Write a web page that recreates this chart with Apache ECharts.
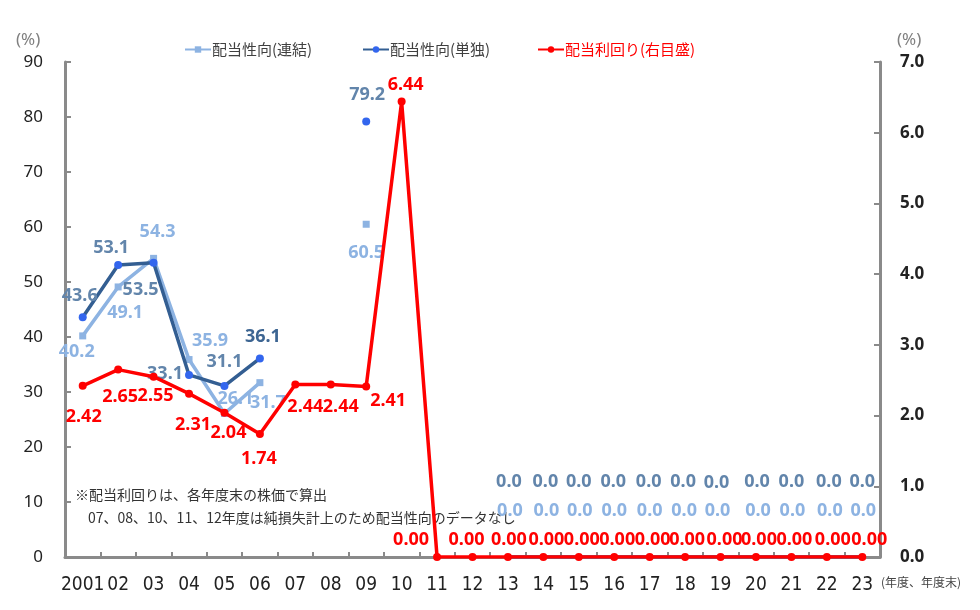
<!DOCTYPE html>
<html><head><meta charset="utf-8">
<script src="https://cdn.jsdelivr.net/npm/echarts@6/dist/echarts.min.js"></script>
<style>html,body{margin:0;padding:0;background:#fff}#c{width:980px;height:610px}</style>
</head><body><div id="c"></div>
<script>
// ---- data ----
var years = ['2001','02','03','04','05','06','07','08','09','10','11','12','13','14','15','16','17','18','19','20','21','22','23'];
var payoutConsolidated = [40.2,49.1,54.3,35.9,26.1,31.7,null,null,60.5,null,null,null,0.0,0.0,0.0,0.0,0.0,0.0,0.0,0.0,0.0,0.0,0.0];
var payoutParent = [43.6,53.1,53.5,33.1,31.1,36.1,null,null,79.2,null,null,null,0.0,0.0,0.0,0.0,0.0,0.0,0.0,0.0,0.0,0.0,0.0];
var dividendYield = [2.42,2.65,2.55,2.31,2.04,1.74,2.44,2.44,2.41,6.44,0.00,0.00,0.00,0.00,0.00,0.00,0.00,0.00,0.00,0.00,0.00,0.00,0.00];
var leftTicks = {min:0, max:90, interval:10};
var rightTicks = {min:0, max:7, interval:1};
var seriesNames = ['配当性向(連結)','配当性向(単独)','配当利回り(右目盛)'];
var noteLines = ['※配当利回りは、各年度末の株価で算出','07、08、10、11、12年度は純損失計上のため配当性向のデータなし'];

// ---- label layout (offsets of data labels from their points) ----
var offConsolidated = [[-6,16],[7,26],[4,-26],[21,-19],[11,-15],[8,20],null,null,[0,29],null,null,null,
  [2,-46],[3,-46],[1,-46],[0,-46],[0,-46],[-1,-46],[-3,-46],[2,-46],[1,-46],[3,-46],[1,-46]];
var offParent = [[-3,-21],[-7,-17],[-13,27],[-24,-1],[0,-24],[3,-22],null,null,[1,-27],null,null,null,
  [1,-75],[2,-75],[0,-75],[-1,-75],[-1,-75],[-2,-75],[-4,-74],[1,-75],[0,-75],[2,-75],[0,-75]];
var offYield = [[1,31],[2,27],[2,19],[4,31],[4,20],[-1,25],[10,22],[10,22],[22,14],[4,-17],[-26,-17],[-6,-17],
  [1,-17],[3,-17],[3,-17],[3,-17],[3,-17],[2,-17],[4,-17],[3,-17],[3,-17],[6,-17],[7,-17]];

var LBL_FONT = '"Noto Sans","Open Sans",sans-serif';
var JP_FONT = '"Noto Sans CJK JP",sans-serif';
function build(vals, offs, hideZeroSymbol, colorOverride){
  return vals.map(function(v,i){
    if (v === null) return null;
    var it = {value:v, label:{offset: offs[i] || [0,0]}};
    if (colorOverride && colorOverride[i]) it.label.color = colorOverride[i];
    if (hideZeroSymbol && v === 0) it.symbolSize = 1;
    return it;
  });
}
function lbl(color, digits){
  return {show:true, position:'inside', color:color, fontSize:18, fontWeight:'bold', fontFamily:LBL_FONT,
    formatter:function(p){return Number(p.value).toFixed(digits);}};
}
function oneLegend(name, left, color){
  return {top:37, left:left, itemWidth:26, itemHeight:8, itemGap:0, data:[name],
    textStyle:{fontSize:15, color:color, fontFamily:JP_FONT, padding:[0,0,0,-4]}};
}

var chart = echarts.init(document.getElementById('c'), null, {renderer:'canvas'});
var axisGray = '#8a8a8a';
chart.setOption({
  animation:false,
  backgroundColor:'#ffffff',
  grid:{left:65, right:100, top:62, bottom:53, containLabel:false},
  legend:[
    oneLegend(seriesNames[0], 179, '#404040'),
    oneLegend(seriesNames[1], 357, '#404040'),
    oneLegend(seriesNames[2], 532, '#ff0000')
  ],
  xAxis:{
    type:'category', data:years, boundaryGap:true,
    axisLine:{lineStyle:{color:axisGray, width:3}},
    axisTick:{show:true, inside:true, length:5, interval:0, lineStyle:{color:axisGray, width:2}},
    axisLabel:{interval:0, margin:19, color:'#222', fontSize:19,
      fontFamily:'"Liberation Sans Narrow","DejaVu Sans Condensed","Roboto Condensed",sans-serif'},
    splitLine:{show:false}
  },
  yAxis:[
    {type:'value', min:leftTicks.min, max:leftTicks.max, interval:leftTicks.interval, position:'left',
     axisLine:{show:true, lineStyle:{color:axisGray, width:3}},
     axisTick:{show:true, inside:true, length:6, lineStyle:{color:axisGray, width:2}},
     axisLabel:{color:'#222', fontSize:17, margin:22, fontFamily:'"Noto Sans",sans-serif'},
     splitLine:{show:false}},
    {type:'value', min:rightTicks.min, max:rightTicks.max, interval:rightTicks.interval, position:'right',
     axisLine:{show:true, lineStyle:{color:axisGray, width:3}},
     axisTick:{show:true, inside:true, length:6, lineStyle:{color:axisGray, width:2}},
     axisLabel:{color:'#222', fontSize:17, fontWeight:'bold', margin:20, fontFamily:'"Noto Sans",sans-serif',
       formatter:function(v){return v.toFixed(1);}},
     splitLine:{show:false}}
  ],
  graphic:[
    {type:'text', left:16, top:32, style:{text:'(%)', fill:'#808080', fontSize:17, fontFamily:'"Noto Sans",sans-serif'}},
    {type:'text', left:897, top:32, style:{text:'(%)', fill:'#808080', fontSize:17, fontFamily:'"Noto Sans",sans-serif'}},
    {type:'text', left:881, top:576, style:{text:'(年度、年度末)', fill:'#444', fontSize:12, fontFamily:JP_FONT}},
    {type:'text', left:75, top:488, z:1, style:{text:noteLines[0], fill:'#333', fontSize:14, fontFamily:JP_FONT}},
    {type:'text', left:88, top:511, z:1, style:{text:noteLines[1], fill:'#333', fontSize:14, fontFamily:JP_FONT}}
  ],
  series:[
    {name:seriesNames[0], type:'line', yAxisIndex:0, z:3, connectNulls:false,
     symbol:'rect', symbolSize:7, color:'#8db3e2',
     itemStyle:{color:'#8db3e2'}, lineStyle:{color:'#8db3e2', width:3.5},
     label:lbl('#8db3e2',1),
     data:build(payoutConsolidated, offConsolidated, true)},
    {name:seriesNames[1], type:'line', yAxisIndex:0, z:4, connectNulls:false,
     symbol:'circle', symbolSize:8, color:'#3366ee',
     itemStyle:{color:'#3366ee'}, lineStyle:{color:'#335e92', width:3.5},
     label:lbl('#6285ab',1),
     data:build(payoutParent, offParent, true, {5:'#3d6592'})},
    {name:seriesNames[2], type:'line', yAxisIndex:1, z:5,
     symbol:'circle', symbolSize:8, color:'#ff0000',
     itemStyle:{color:'#ff0000'}, lineStyle:{color:'#ff0000', width:3.5},
     label:lbl('#ff0000',2),
     data:build(dividendYield, offYield, false)}
  ]
});
</script>
</body></html>
